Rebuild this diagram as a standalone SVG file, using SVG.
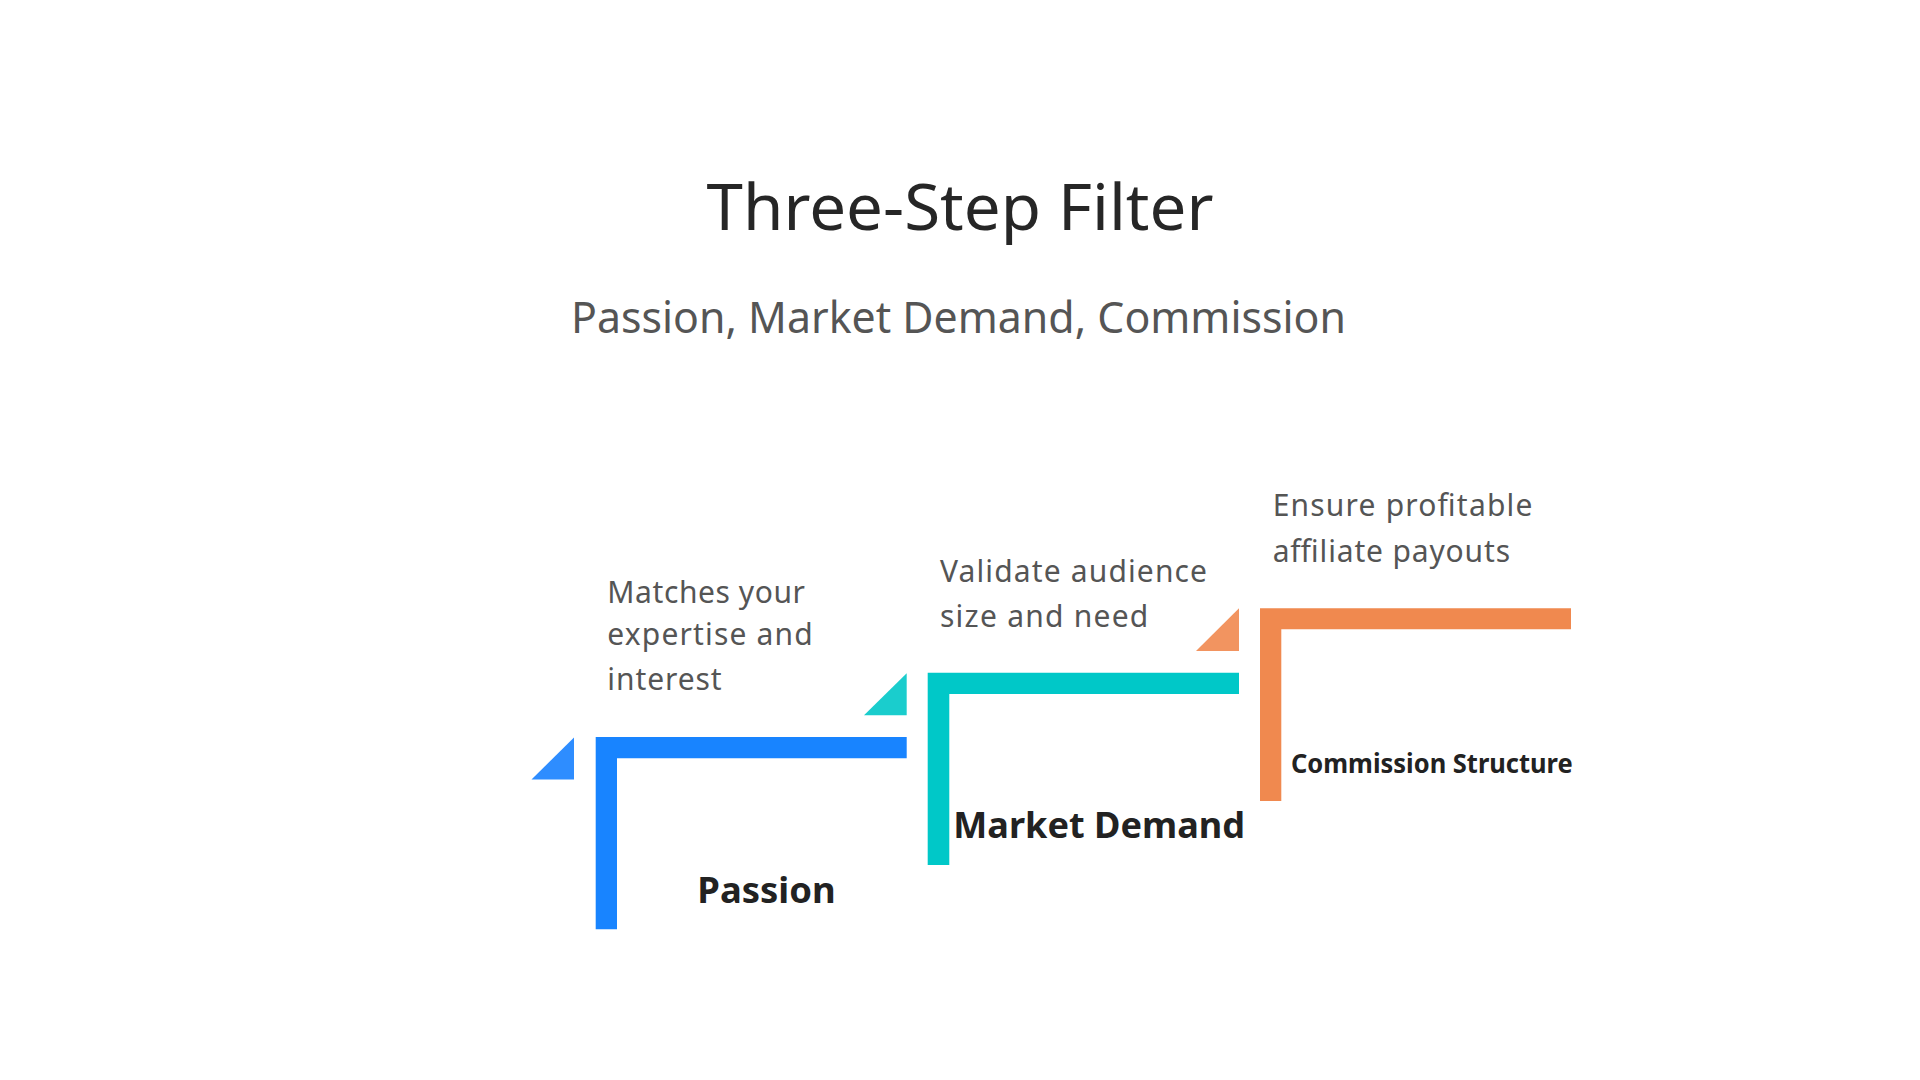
<svg xmlns="http://www.w3.org/2000/svg" width="1920" height="1080" viewBox="0 0 1920 1080">
<style>
.title{font-family:"Noto Sans","Open Sans","Liberation Sans",sans-serif;font-size:64px;fill:#262626}
.sub{font-family:"Noto Sans","Open Sans","Liberation Sans",sans-serif;font-size:43px;fill:#555555}
.desc{font-family:"Noto Sans","Open Sans","Liberation Sans",sans-serif;font-size:30px;fill:#555555}
.lbl{font-family:"Noto Sans","Open Sans","Liberation Sans",sans-serif;font-weight:bold;fill:#222222}
.blue{fill:#1884FF}.blueT{fill:#2E8DFF}
.teal{fill:#00C8C8}.tealT{fill:#1ACDCD}
.orange{fill:#F0894F}.orangeT{fill:#F29460}
</style>
<rect width="1920" height="1080" fill="#FFFFFF"/>
<g id="header">
<text class="title" x="706.5" y="230" textLength="507" lengthAdjust="spacingAndGlyphs">Three-Step Filter</text>
<text class="sub" x="571" y="333" textLength="775" lengthAdjust="spacingAndGlyphs">Passion, Market Demand, Commission</text>
</g>
<g id="connectors"></g>
<g id="step-passion">
<polygon class="blueT" points="574,737.5 574,779.5 531.5,779.5"/>
<path class="blue" d="M595.7,737 H906.7 V758.3 H617 V929.3 H595.7 Z"/>
<text class="desc" x="607.3" y="602.7" textLength="197.7" lengthAdjust="spacing">Matches your</text>
<text class="desc" x="607.3" y="645.3" textLength="205.3" lengthAdjust="spacing">expertise and</text>
<text class="desc" x="607.3" y="690" textLength="114.3" lengthAdjust="spacing">interest</text>
<text class="lbl" x="697.3" y="902.7" font-size="36.5" textLength="138.4" lengthAdjust="spacingAndGlyphs">Passion</text>
</g>
<g id="step-market">
<polygon class="tealT" points="906.7,673.3 906.7,715.3 864,715.3"/>
<path class="teal" d="M927.7,672.7 H1239 V694 H949.3 V865 H927.7 Z"/>
<text class="desc" x="940" y="581.7" textLength="267" lengthAdjust="spacing">Validate audience</text>
<text class="desc" x="940" y="627.3" textLength="208.3" lengthAdjust="spacing">size and need</text>
<text class="lbl" x="953.3" y="837.7" font-size="36.5" textLength="291.7" lengthAdjust="spacingAndGlyphs">Market Demand</text>
</g>
<g id="step-commission">
<polygon class="orangeT" points="1239,608.3 1239,651 1196,651"/>
<path class="orange" d="M1260,608.3 H1571 V629.3 H1281.3 V801 H1260 Z"/>
<text class="desc" x="1272.7" y="516" textLength="259.7" lengthAdjust="spacing">Ensure profitable</text>
<text class="desc" x="1272.7" y="561.7" textLength="237.3" lengthAdjust="spacing">affiliate payouts</text>
<text class="lbl" x="1291" y="773.3" font-size="26" textLength="281.7" lengthAdjust="spacingAndGlyphs">Commission Structure</text>
</g>
</svg>
